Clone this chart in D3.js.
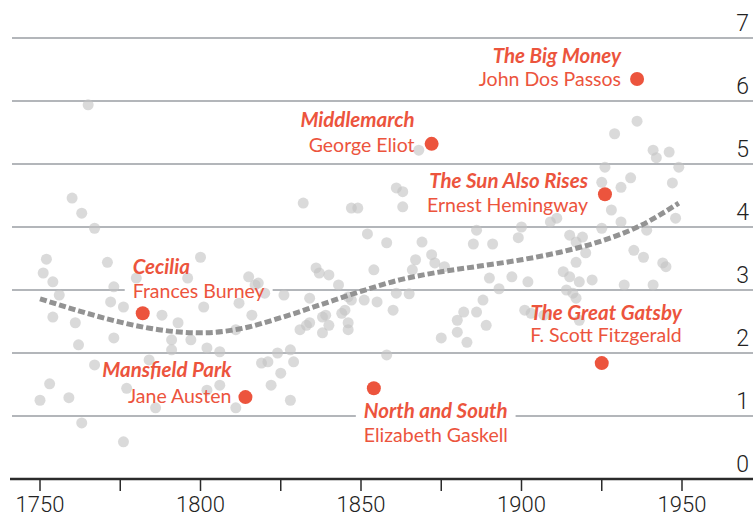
<!DOCTYPE html>
<html>
<head>
<meta charset="utf-8">
<script src="https://cdn.jsdelivr.net/npm/d3@7.9.0/dist/d3.min.js"></script>
<style>
  html, body { margin: 0; padding: 0; background: #fff; }
  svg { display: block; }
</style>
</head>
<body>
<svg id="chart" width="753" height="519"></svg>
<script>
// grey dots: publication year and score of every novel
const years = [1765,1760,1763,1767,1752,1751,1754,1756,1771,1773,1772,1776,1780,1800,1796,1801,1788,1815,1818,1820,1826,1832,1847,1849,1852,1836,1837,1840,1843,1846,1854,1834,1812,1851,1844,1839,1816,
  1761,1762,1767,1753,1750,1759,1763,1776,1773,1777,1784,1786,1793,1791,1791,1797,1802,1806,1802,1806,1811,1811,1819,1821,1824,1828,1829,1825,1822,1828,1831,1834,1838,1840,1846,1754,
  1936,1929,1941,1946,1942,1926,1949,1925,1934,1931,1947,1928,1948,1861,1863,1863,1868,1858,1869,1885,1891,1886,1900,1899,1909,1911,1915,1919,1917,1925,1931,1939,1935,1938,1944,1945,
  1920,1917,1913,1915,1918,1922,1932,1941,1872,1873,1876,1867,1890,1893,1897,1902,1865,1860,1882,1888,1914,1916,
  1880,1886,1889,1875,1880,1883,1858,1918,1847,1855,1845,1838,1833,1846,1861,1866,1817,1901,1903,1907,1917];
const scores = [5.94,4.46,4.22,3.98,3.49,3.27,3.13,2.92,3.44,3.05,2.81,2.73,3.19,3.52,3.19,2.73,2.60,3.21,3.11,2.95,2.92,4.38,4.30,4.30,3.89,3.35,3.27,3.24,3.08,2.89,3.32,2.87,2.79,2.84,2.63,2.60,2.60,
  2.48,2.13,1.81,1.51,1.25,1.29,0.89,0.59,2.24,1.44,1.89,1.13,2.48,2.21,2.05,2.21,2.08,2.02,1.41,1.49,2.37,1.13,1.84,1.86,2.00,2.05,1.86,1.68,1.49,1.25,2.37,2.48,2.32,2.44,2.37,2.57,
  5.68,5.48,5.22,5.19,5.10,4.95,4.95,4.71,4.78,4.63,4.70,4.27,4.14,4.62,4.56,4.32,5.22,3.75,3.76,3.73,3.73,3.95,4.00,3.83,4.08,4.14,3.87,3.84,3.76,3.98,4.08,3.95,3.63,3.52,3.43,3.37,
  3.59,3.44,3.29,3.21,3.13,3.16,3.08,3.08,3.56,3.43,3.37,3.48,3.19,3.02,3.21,3.13,2.94,2.68,2.65,2.84,3.00,2.95,
  2.52,2.65,2.44,2.24,2.33,2.17,1.97,2.52,2.84,2.81,2.68,2.57,2.44,2.48,2.95,3.32,3.08,2.68,2.63,2.60,2.87];

// dashed trend line
const trendYears = [1750,1762,1775,1787,1800,1812,1825,1837,1850,1862,1875,1887,1900,1912,1925,1937,1949];
const trendScores = [2.86,2.67,2.49,2.37,2.32,2.38,2.56,2.76,2.98,3.16,3.29,3.38,3.48,3.60,3.78,4.02,4.38];

// highlighted novels
const titles = ["The Big Money","Middlemarch","The Sun Also Rises","Cecilia","The Great Gatsby","Mansfield Park","North and South"];
const authors = ["John Dos Passos","George Eliot","Ernest Hemingway","Frances Burney","F. Scott Fitzgerald","Jane Austen","Elizabeth Gaskell"];
const bookYears = [1936,1872,1926,1782,1925,1814,1854];
const bookScores = [6.35,5.32,4.52,2.63,1.84,1.30,1.44];

const xTicks = [1750,1775,1800,1825,1850,1875,1900,1925,1950];
const yTicks = [0,1,2,3,4,5,6,7];

// label placement, relative to each red dot
const labelPos = {
  "The Big Money":      {anchor: "end",   dx: -16, dy1: -16, dy2: 7},
  "Middlemarch":        {anchor: "end",   dx: -17, dy1: -17, dy2: 8},
  "The Sun Also Rises": {anchor: "end",   dx: -17, dy1: -6,  dy2: 18},
  "Cecilia":            {anchor: "start", dx: -10, dy1: -39, dy2: -15},
  "The Great Gatsby":   {anchor: "end",   dx: 80,  dy1: -43, dy2: -21},
  "Mansfield Park":     {anchor: "end",   dx: -14, dy1: -20, dy2: 6},
  "North and South":    {anchor: "start", dx: -10, dy1: 30,  dy2: 54}
};

const red = "#ec543d";
const svg = d3.select("#chart");
const W = 753;

const x = d3.scaleLinear().domain([1750, 1950]).range([40, 682]);
const y = d3.scaleLinear().domain([0, 7]).range([479, 38]);

// gridlines
svg.append("g").selectAll("line")
  .data(yTicks.filter(d => d > 0))
  .join("line")
  .attr("x1", 12).attr("x2", W)
  .attr("y1", d => y(d)).attr("y2", d => y(d))
  .attr("stroke", "#b3b6ba").attr("stroke-width", 2);

// y labels
svg.append("g").selectAll("text")
  .data(yTicks)
  .join("text")
  .attr("x", 749).attr("y", d => y(d) - 7)
  .attr("text-anchor", "end")
  .attr("font-family", "Roboto, sans-serif").attr("font-weight", 300)
  .attr("font-size", 23).attr("fill", "#222")
  .text(d => d);

// label blocks (built first so their white backing cuts the gridlines)
const books = titles.map((t, i) => ({title: t, author: authors[i], year: bookYears[i], score: bookScores[i]}));
const backing = svg.append("g");

// grey dots
svg.append("g").selectAll("circle")
  .data(years.map((yr, i) => ({yr, v: scores[i]})))
  .join("circle")
  .attr("cx", d => x(d.yr)).attr("cy", d => y(d.v))
  .attr("r", 5.5)
  .attr("fill", "#c4c4c4").attr("fill-opacity", 0.62);

// trend
const line = d3.line()
  .x((d, i) => x(trendYears[i]))
  .y(d => y(d))
  .curve(d3.curveMonotoneX);
svg.append("path")
  .datum(trendScores)
  .attr("d", line)
  .attr("fill", "none")
  .attr("stroke", "#939393").attr("stroke-width", 5)
  .attr("stroke-dasharray", "7,3");

// x axis
const xAxis = svg.append("g").attr("transform", `translate(0,${y(0)})`);
xAxis.append("line")
  .attr("x1", 10).attr("x2", W)
  .attr("stroke", "#2b2b2b").attr("stroke-width", 2.5);
xAxis.selectAll(".tick")
  .data(xTicks)
  .join("line")
  .attr("x1", d => x(d)).attr("x2", d => x(d))
  .attr("y1", 0).attr("y2", 12)
  .attr("stroke", "#2b2b2b").attr("stroke-width", 1.5);
xAxis.selectAll("text")
  .data(xTicks.filter(d => d % 50 === 0))
  .join("text")
  .attr("x", d => x(d)).attr("y", 33)
  .attr("text-anchor", "middle")
  .attr("font-family", "Roboto, sans-serif").attr("font-weight", 300)
  .attr("font-size", 22).attr("fill", "#222")
  .text(d => d);

// red dots
svg.append("g").selectAll("circle")
  .data(books)
  .join("circle")
  .attr("cx", d => x(d.year)).attr("cy", d => y(d.score))
  .attr("r", 7)
  .attr("fill", red);

// annotations
const labels = svg.append("g");
books.forEach(b => {
  const p = labelPos[b.title];
  const lx = x(b.year) + p.dx, ly = y(b.score);
  const t1 = labels.append("text")
    .attr("x", lx).attr("y", ly + p.dy1)
    .attr("text-anchor", p.anchor)
    .attr("font-family", "Lato, sans-serif").attr("font-weight", 700)
    .attr("font-style", "italic").attr("font-size", 20.5)
    .attr("fill", red).text(b.title);
  const t2 = labels.append("text")
    .attr("x", lx).attr("y", ly + p.dy2)
    .attr("text-anchor", p.anchor)
    .attr("font-family", "Lato, sans-serif").attr("font-weight", 400)
    .attr("font-size", 19.5)
    .attr("fill", red).text(b.author);
  [t1, t2].forEach(t => {
    const bb = t.node().getBBox();
    backing.append("rect")
      .attr("x", bb.x - 8).attr("y", bb.y + 2)
      .attr("width", bb.width + 16).attr("height", bb.height - 4)
      .attr("fill", "#fff");
  });
});
</script>
</body>
</html>
